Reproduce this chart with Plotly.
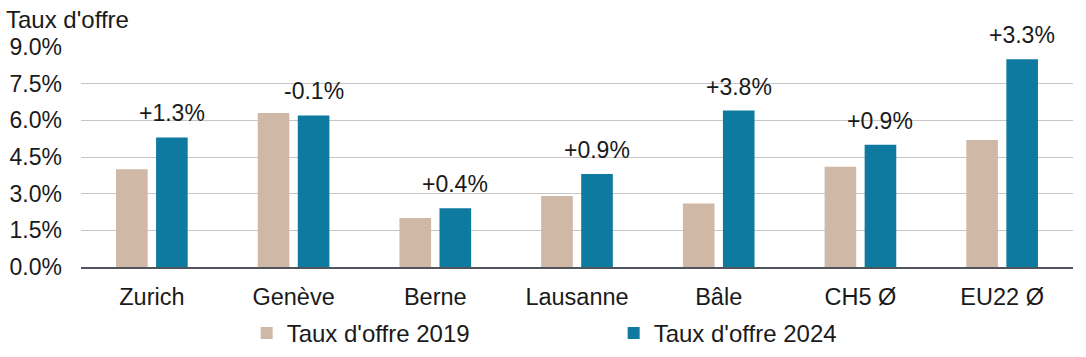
import plotly.graph_objects as go

categories = ["Zurich", "Genève", "Berne", "Lausanne", "Bâle", "CH5 Ø", "EU22 Ø"]
rate_2019 = [4.0, 6.3, 2.0, 2.9, 2.6, 4.1, 5.2]
rate_2024 = [5.3, 6.2, 2.4, 3.8, 6.4, 5.0, 8.5]
change_labels = ["+1.3%", "-0.1%", "+0.4%", "+0.9%", "+3.8%", "+0.9%", "+3.3%"]
tick_vals = [0.0, 1.5, 3.0, 4.5, 6.0, 7.5, 9.0]
tick_text = ["0.0%", "1.5%", "3.0%", "4.5%", "6.0%", "7.5%", "9.0%"]

C19 = "#D0B8A6"
C24 = "#0E7AA0"
FONT = "Liberation Sans, Arial, sans-serif"
TXT = "#1a1a1a"

fig = go.Figure()
fig.add_trace(go.Bar(x=categories, y=rate_2019, name="Taux d'offre 2019",
                     marker=dict(color=C19, line=dict(width=0))))
fig.add_trace(go.Bar(x=categories, y=rate_2024, name="Taux d'offre 2024",
                     marker=dict(color=C24, line=dict(width=0))))

for cat, val, lab in zip(categories, rate_2024, change_labels):
    fig.add_annotation(x=cat, y=val, xref="x", yref="y", text=lab, showarrow=False,
                       xanchor="center", yanchor="bottom", xshift=20, yshift=9,
                       font=dict(size=23, color=TXT))

fig.update_layout(
    width=1086, height=357,
    margin=dict(l=81, r=13, t=47, b=90, autoexpand=False),
    paper_bgcolor="white", plot_bgcolor="white",
    font=dict(family=FONT, size=23, color=TXT),
    barmode="group", bargap=0.435, bargroupgap=0.21,
    showlegend=True,
    legend=dict(orientation="h", x=0.167, xanchor="left", y=-0.2, yanchor="top",
                font=dict(size=24, color=TXT), itemwidth=30, entrywidth=322,
                traceorder="normal"),
    xaxis=dict(showgrid=False, showline=True, linecolor="#4F555B", linewidth=2,
               ticks="", ticklabelstandoff=8, automargin=False,
               tickfont=dict(size=23.5, color=TXT)),
    yaxis=dict(range=[0, 9], tickvals=tick_vals, ticktext=tick_text,
               showgrid=True, gridcolor="#C6C6C6", gridwidth=1, zeroline=False,
               showline=False, ticks="", ticklabelstandoff=18, automargin=False,
               tickfont=dict(size=23, color=TXT)),
)
fig.add_annotation(text="Taux d'offre", xref="paper", yref="paper", x=0, y=1,
                   xanchor="left", yanchor="bottom", xshift=-77, yshift=12,
                   showarrow=False, font=dict(size=24, color=TXT))

fig.write_html("out.html", config={"displayModeBar": False},
               post_script="document.body.style.margin='0';document.body.style.overflow='hidden';")
